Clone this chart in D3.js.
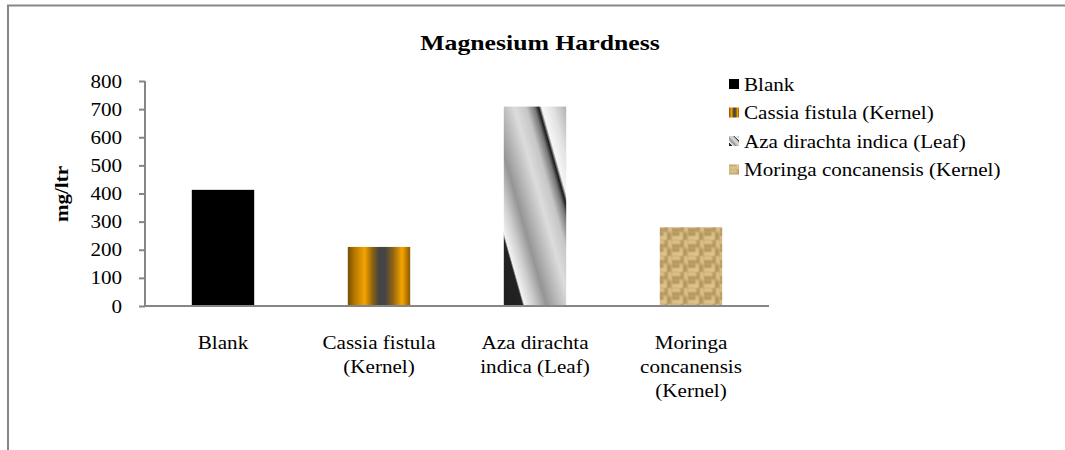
<!DOCTYPE html>
<html>
<head>
<meta charset="utf-8">
<script src="https://d3js.org/d3.v7.min.js"></script>
<style>
  body { margin: 0; background: #fff; }
  text { font-family: "Liberation Serif", "Times New Roman", serif; fill: #000; }
</style>
</head>
<body>
<div id="chart"></div>
<script>
var categories = ["Blank", "Cassia fistula (Kernel)", "Aza dirachta indica (Leaf)", "Moringa concanensis (Kernel)"];
var tickLines = [["Blank"], ["Cassia fistula", "(Kernel)"], ["Aza dirachta", "indica (Leaf)"], ["Moringa", "concanensis", "(Kernel)"]];
var values = [413, 210, 709, 280];
var yTicks = [0, 100, 200, 300, 400, 500, 600, 700, 800];
var fills = ["#000000", "url(#cassia)", "url(#aza)", "url(#moringa)"];

var svg = d3.select("#chart").append("svg")
  .attr("width", 1065)
  .attr("height", 450);

var defs = svg.append("defs");

// cassia - vertical orange / dark stripes
var cg = defs.append("linearGradient").attr("id", "cassia")
  .attr("x1", 0).attr("y1", 0).attr("x2", 1).attr("y2", 0);
[[0, "#7a4e00"], [0.12, "#b87c00"], [0.27, "#f5a300"], [0.4, "#8c6010"], [0.5, "#444444"], [0.6, "#464646"], [0.72, "#8f6210"], [0.87, "#f7a600"], [1, "#8a5800"]]
  .forEach(function (s) { cg.append("stop").attr("offset", s[0]).attr("stop-color", s[1]); });

// aza - diagonal grey bands
var ag = defs.append("linearGradient").attr("id", "aza")
  .attr("x1", 0).attr("y1", 1).attr("x2", 1.05).attr("y2", 0.05);
[[0, "#1f1f1f"], [0.16, "#222222"], [0.175, "#f2f2f2"], [0.26, "#cdcdcd"], [0.36, "#959595"], [0.46, "#bababa"], [0.56, "#dcdcdc"], [0.66, "#c6c6c6"], [0.73, "#777777"], [0.765, "#1a1a1a"], [0.79, "#f6f6f6"], [0.88, "#e2e2e2"], [1, "#b0b0b0"]]
  .forEach(function (s) { ag.append("stop").attr("offset", s[0]).attr("stop-color", s[1]); });

// moringa - burlap weave, softened
var blur = defs.append("filter").attr("id", "soft");
blur.append("feGaussianBlur").attr("stdDeviation", 0.9);
var mp = defs.append("pattern").attr("id", "moringa")
  .attr("patternUnits", "userSpaceOnUse")
  .attr("width", 16).attr("height", 16);
mp.append("rect").attr("width", 16).attr("height", 16).attr("fill", "#c9ab73");
var weave = mp.append("g").attr("filter", "url(#soft)");
[[0, 1, 8, 2, "#e6cf9c"], [0, 5, 8, 2, "#a98a54"], [8, 8, 2, 8, "#e4cc97"], [12, 8, 2, 8, "#a5864f"],
 [9, 0, 2, 8, "#ab8c55"], [13, 0, 2, 8, "#e3cb95"], [0, 9, 8, 2, "#a7884f"], [0, 13, 8, 2, "#e8d29f"]]
  .forEach(function (r) {
    weave.append("rect").attr("x", r[0]).attr("y", r[1]).attr("width", r[2]).attr("height", r[3]).attr("fill", r[4]);
  });

// outer frame (top and left only)
svg.append("line").attr("x1", 7).attr("x2", 1065).attr("y1", 5.5).attr("y2", 5.5)
  .attr("stroke", "#878787").attr("stroke-width", 2);
svg.append("line").attr("x1", 8).attr("x2", 8).attr("y1", 5).attr("y2", 450)
  .attr("stroke", "#878787").attr("stroke-width", 2);

svg.append("text")
  .attr("class", "stretch-title")
  .attr("x", 540)
  .attr("y", 50)
  .attr("text-anchor", "middle")
  .attr("font-size", "22px")
  .attr("font-weight", "bold")
  .text("Magnesium Hardness");

var x = d3.scaleBand().domain(categories).range([145, 769]).paddingInner(0.6).paddingOuter(0.3);
var y = d3.scaleLinear().domain([0, 800]).range([306, 81]);

// y axis
var yAxis = svg.append("g")
  .attr("transform", "translate(145,0)")
  .call(d3.axisLeft(y).tickValues(yTicks).tickSize(6).tickPadding(17).tickFormat(d3.format("d")));
yAxis.select(".domain").attr("stroke", "#868686").attr("stroke-width", 2).attr("d", "M0,306V81");
yAxis.selectAll(".tick line").attr("stroke", "#868686").attr("stroke-width", 2);
yAxis.selectAll(".tick text").attr("class", "stretch").attr("font-size", "19px")
  .attr("font-family", "Liberation Serif").attr("fill", "#000");

svg.append("text")
  .attr("class", "stretch")
  .attr("transform", "translate(68,194) rotate(-90)")
  .attr("text-anchor", "middle")
  .attr("font-size", "19px")
  .attr("font-weight", "bold")
  .text("mg/ltr");

// bars
svg.selectAll(".bar")
  .data(values)
  .enter().append("rect")
  .attr("class", "bar")
  .attr("x", function (d, i) { return x(categories[i]); })
  .attr("y", function (d) { return y(d); })
  .attr("width", x.bandwidth())
  .attr("height", function (d) { return y(0) - y(d); })
  .attr("fill", function (d, i) { return fills[i]; });

// x axis
var xAxis = svg.append("g")
  .attr("transform", "translate(0,306)")
  .call(d3.axisBottom(x).tickSize(0).tickFormat(""));
xAxis.select(".domain").attr("stroke", "#868686").attr("stroke-width", 2).attr("d", "M145,0H769");

var labels = svg.append("g").selectAll("text")
  .data(categories)
  .enter().append("text")
  .attr("text-anchor", "middle")
  .attr("font-size", "19px")
  .attr("x", function (d) { return x(d) + x.bandwidth() / 2; })
  .attr("y", 349);
labels.each(function (d, i) {
  var t = d3.select(this);
  tickLines[i].forEach(function (line, j) {
    t.append("tspan").attr("class", "stretch")
      .attr("x", x(d) + x.bandwidth() / 2).attr("dy", j === 0 ? 0 : 24).text(line);
  });
});

// legend
var legend = svg.append("g").selectAll("g")
  .data(categories)
  .enter().append("g")
  .attr("transform", function (d, i) { return "translate(729," + (84 + i * 28.5) + ")"; });
legend.append("rect")
  .attr("x", 0).attr("y", -5)
  .attr("width", 10).attr("height", 10)
  .attr("fill", function (d, i) { return fills[i]; });
legend.append("text")
  .attr("class", "stretch")
  .attr("x", 15)
  .attr("dy", "0.35em")
  .attr("font-size", "19px")
  .text(function (d) { return d; });

// the original text is drawn a bit wider than Times at this height
function widen(sel, k) {
  sel.each(function () {
    var w = this.getComputedTextLength();
    d3.select(this).attr("textLength", w * k).attr("lengthAdjust", "spacingAndGlyphs");
  });
}
widen(svg.selectAll(".stretch"), 1.11);
widen(svg.selectAll(".stretch-title"), 1.17);
</script>
</body>
</html>
